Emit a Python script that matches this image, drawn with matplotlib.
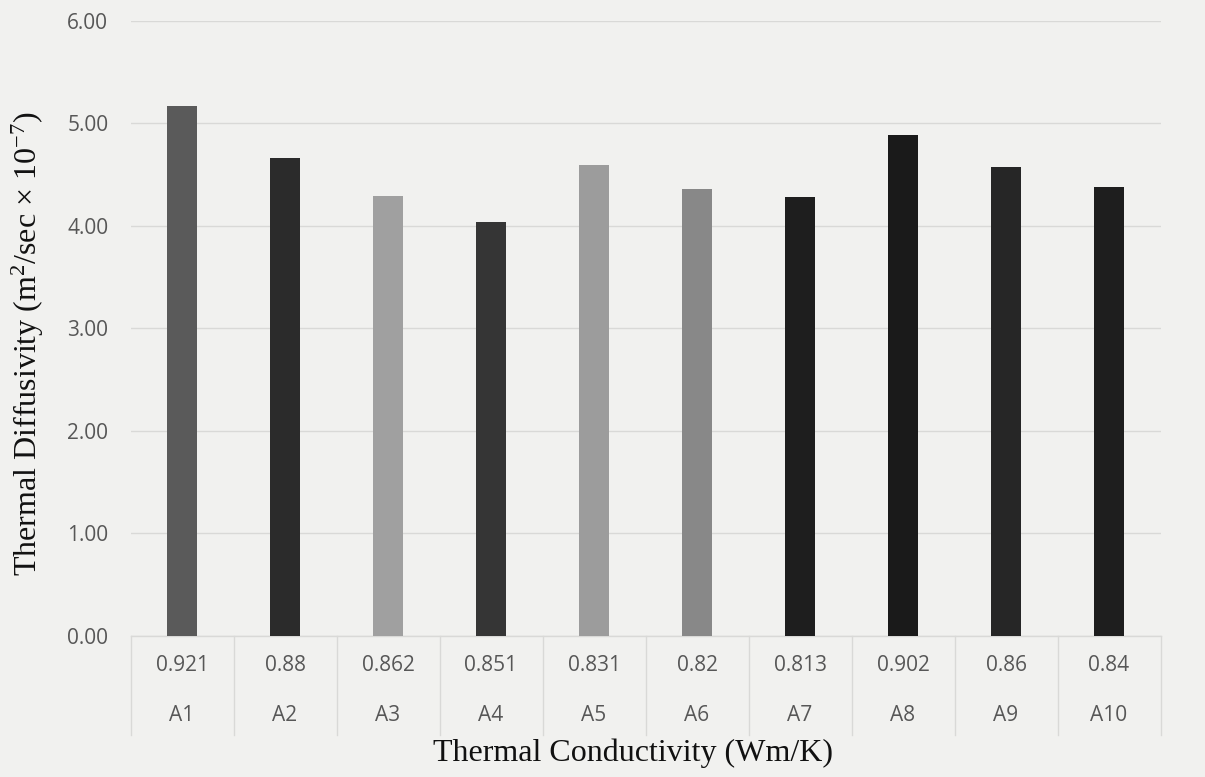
import matplotlib
matplotlib.use("Agg")
import matplotlib.pyplot as plt
import matplotlib.transforms as mtransforms

# Thermal diffusivity (m^2/s x 1e-7) and conductivity for each sample
samples = ["A1", "A2", "A3", "A4", "A5", "A6", "A7", "A8", "A9", "A10"]
conductivity = ["0.921", "0.88", "0.862", "0.851", "0.831", "0.82", "0.813", "0.902", "0.86", "0.84"]
diffusivity = [5.17, 4.66, 4.29, 4.04, 4.59, 4.36, 4.28, 4.88, 4.57, 4.38]
bar_colors = ["#5a5a5a", "#2b2b2b", "#a0a0a0", "#353535", "#9c9c9c",
              "#888888", "#1e1e1e", "#1a1a1a", "#262626", "#1e1e1e"]
y_ticks = [0, 1, 2, 3, 4, 5, 6]

BG = "#f1f1ef"
GRID = "#d9d9d7"
TICK = "#575757"

plt.rcParams["mathtext.fontset"] = "custom"
plt.rcParams["mathtext.rm"] = "Liberation Serif"
plt.rcParams["mathtext.it"] = "Liberation Serif:italic"

fig = plt.figure(figsize=(12.05, 7.77), dpi=100)
fig.patch.set_facecolor(BG)
ax = fig.add_axes([0.1083, 0.1819, 0.8548, 0.7915])
ax.set_facecolor(BG)

x = list(range(len(samples)))
ax.bar(x, diffusivity, width=0.3, color=bar_colors, zorder=3)

ax.set_xlim(-0.5, len(samples) - 0.5)
ax.set_ylim(0, 6)
ax.set_yticks(y_ticks)
ax.set_yticklabels([f"{v:.2f}" for v in y_ticks], fontfamily="Open Sans",
                   fontsize=15, color=TICK)
ax.tick_params(axis="y", length=0, pad=16)
ax.set_xticks([])
ax.yaxis.grid(True, color=GRID, linewidth=1.0, zorder=0)
ax.set_axisbelow(True)
for name, spine in ax.spines.items():
    spine.set_visible(name == "bottom")
ax.spines["bottom"].set_color(GRID)
ax.spines["bottom"].set_linewidth(1.0)

# two-level category table under the axis
trans = mtransforms.blended_transform_factory(ax.transData, ax.transAxes)
for i, (cond, name) in enumerate(zip(conductivity, samples)):
    ax.text(i, -0.049, cond, transform=trans, ha="center", va="center",
            fontfamily="Open Sans", fontsize=15, color=TICK)
    ax.text(i, -0.130, name, transform=trans, ha="center", va="center",
            fontfamily="Open Sans", fontsize=15, color=TICK)
for i in range(len(samples) + 1):
    ax.plot([i - 0.5, i - 0.5], [0, -0.162], transform=trans, color=GRID,
            linewidth=1.0, clip_on=False)

fig.text(0.525, 0.030, "Thermal Conductivity (Wm/K)", ha="center", va="center",
         fontfamily="Liberation Serif", fontsize=23, color="#111111")
fig.text(0.023, 0.558, r"Thermal Diffusivity (m$^{2}$/sec × 10$^{-7}$)",
         ha="center", va="center", rotation=90,
         fontfamily="Liberation Serif", fontsize=23, color="#111111")

fig.savefig("out.png", dpi=100, facecolor=BG)
